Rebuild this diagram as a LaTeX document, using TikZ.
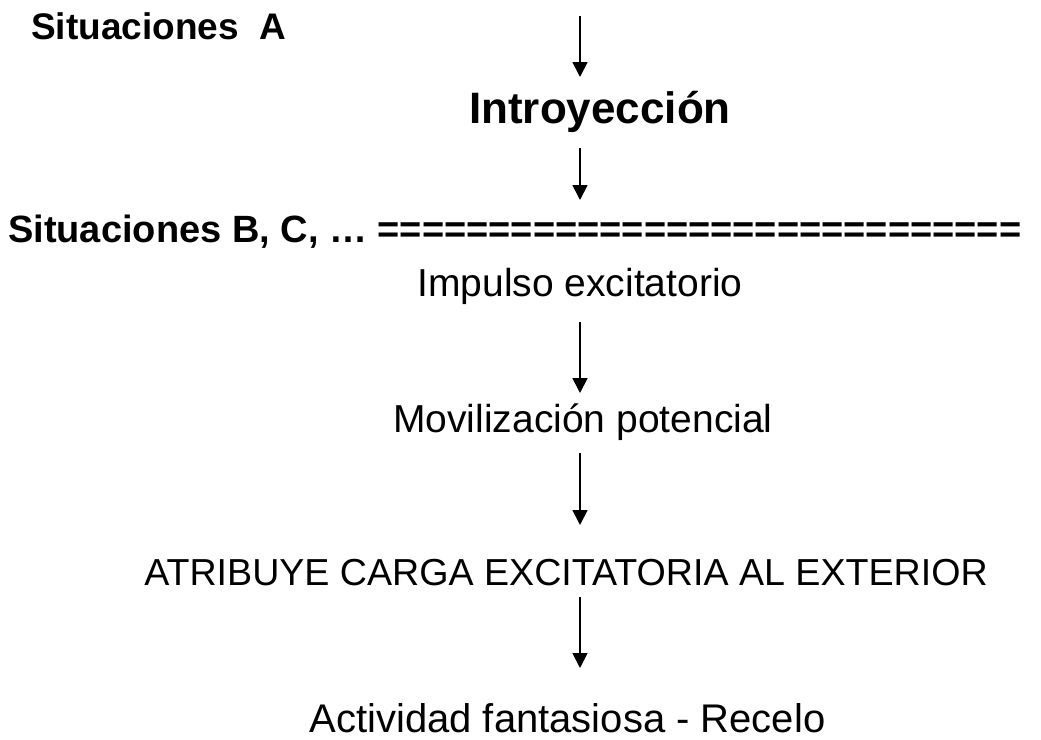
\documentclass[tikz,border=0pt]{standalone}
\usepackage{fontspec}
\setmainfont{Liberation Sans}
\usetikzlibrary{arrows.meta}
\tikzset{txt/.style = {inner sep=0pt, anchor=base, text height=0pt, text depth=0pt},
         flecha/.style = {line width=1.8pt, -{Triangle[width=15pt,length=15pt]}}}

\begin{document}
\begin{tikzpicture}[x=1pt,y=-1pt]
                    \useasboundingbox (0,0) rectangle (1041,739);

                    \node [txt,anchor=base west,font=\bfseries\fontsize{37}{44}\selectfont] (sitA) at (31,39) {Situaciones\ \ A};
                    \node [txt,font=\bfseries\fontsize{44}{52}\selectfont] (intro) at (600,123) {Introyección};
                    \node [txt,anchor=base west,font=\bfseries\fontsize{38}{45}\selectfont] (sitB) at (8,242) {Situaciones B, C, … =============================};
                    \node [txt,font=\fontsize{39}{47}\selectfont] (impulso) at (580,296) {Impulso excitatorio};
                    \node [txt,font=\fontsize{39}{47}\selectfont] (movil) at (583,432) {Movilización potencial};
                    \node [txt,font=\fontsize{37.6}{45}\selectfont] (atrib) at (566,585) {ATRIBUYE CARGA EXCITATORIA AL EXTERIOR};
                    \node [txt,font=\fontsize{40}{48}\selectfont] (activ) at (567.5,732) {Actividad fantasiosa - Recelo};

                    \coordinate (eje) at (580,16);
                    \draw [flecha, shorten >=46pt] (eje) -- (eje |- intro.base);
                    \draw [flecha, shorten <=25pt, shorten >=42pt] (eje |- intro.base) -- (eje |- sitB.base);
                    \draw [flecha, shorten <=26pt, shorten >=39pt] (eje |- impulso.base) -- (eje |- movil.base);
                    \draw [flecha, shorten <=21pt, shorten >=60pt] (eje |- movil.base) -- (eje |- atrib.base);
                    \draw [flecha, shorten <=12pt, shorten >=64pt] (eje |- atrib.base) -- (eje |- activ.base);
\end{tikzpicture}
\end{document}
